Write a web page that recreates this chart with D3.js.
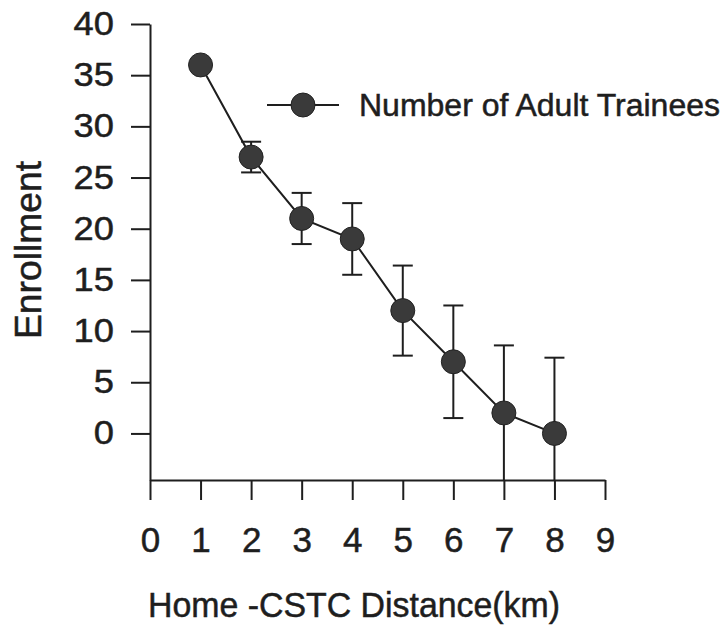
<!DOCTYPE html>
<html>
<head>
<meta charset="utf-8">
<script src="https://cdn.jsdelivr.net/npm/d3@7"></script>
<style>
  html, body { margin: 0; padding: 0; background: #fff; }
  svg { display: block; }
  text { font-family: "Liberation Sans", Arial, sans-serif; fill: #1e1e1e; stroke: #1e1e1e; stroke-width: 0.5px; }
</style>
</head>
<body>
<svg id="chart" width="727" height="629"></svg>
<script>
// ---- data ----
const distances = [1, 2, 3, 4, 5, 6, 7, 8];
const enrollment = [36, 27, 21, 19, 12, 7, 2, 0];
const errors = [0, 1.5, 2.5, 3.5, 4.4, 5.5, 6.6, 7.4];
const xTicks = [0, 1, 2, 3, 4, 5, 6, 7, 8, 9];
const yTicks = [0, 5, 10, 15, 20, 25, 30, 35, 40];
const seriesName = "Number of Adult Trainees";
const xTitle = "Home -CSTC Distance(km)";
const yTitle = "Enrollment";

const svg = d3.select("#chart");
const ink = "#1e1e1e";
const dotFill = "#3a3a3a";

const x = d3.scaleLinear().domain([0, 9]).range([150, 605]);
const y = d3.scaleLinear().domain([-4.55, 40]).range([480, 24]);
const yMin = y.domain()[0];

// x axis
const xAxis = svg.append("g")
  .attr("transform", `translate(0,${y(yMin)})`)
  .call(d3.axisBottom(x).tickValues(xTicks).tickSize(20).tickPadding(27).tickSizeOuter(0).tickFormat(d3.format("d")));
xAxis.select(".domain").attr("stroke", ink).attr("stroke-width", 2);
xAxis.selectAll(".tick line").attr("stroke", ink).attr("stroke-width", 2);
xAxis.selectAll(".tick text").attr("font-size", 35).attr("fill", ink)
  .attr("font-family", "'Liberation Sans', Arial, sans-serif");

// y axis
const yAxis = svg.append("g")
  .attr("transform", `translate(${x(0)},0)`)
  .call(d3.axisLeft(y).tickValues(yTicks).tickSize(19).tickPadding(17).tickSizeOuter(0).tickFormat(d3.format("d")));
yAxis.select(".domain").attr("stroke", ink).attr("stroke-width", 2);
yAxis.selectAll(".tick line").attr("stroke", ink).attr("stroke-width", 2);
yAxis.selectAll(".tick text").attr("font-size", 33).attr("fill", ink)
  .attr("font-family", "'Liberation Sans', Arial, sans-serif")
  .each(function() {
    const w = this.getComputedTextLength();
    d3.select(this).attr("textLength", w * 1.1).attr("lengthAdjust", "spacingAndGlyphs");
  });

// titles
svg.append("text")
  .attr("x", 354).attr("y", 617)
  .attr("text-anchor", "middle")
  .attr("font-size", 35)
  .attr("textLength", 412).attr("lengthAdjust", "spacingAndGlyphs")
  .text(xTitle);

svg.append("text")
  .attr("transform", "translate(41,250) rotate(-90)")
  .attr("text-anchor", "middle")
  .attr("font-size", 36)
  .attr("textLength", 178).attr("lengthAdjust", "spacingAndGlyphs")
  .text(yTitle);

const data = distances.map((d, i) => ({ x: d, y: enrollment[i], e: errors[i] }));

// error bars
const eb = svg.append("g").attr("stroke", ink).attr("stroke-width", 2);
data.filter(d => d.e > 0).forEach(d => {
  const top = y(d.y + d.e);
  const bot = y(Math.max(yMin, d.y - d.e));
  eb.append("line").attr("x1", x(d.x)).attr("x2", x(d.x)).attr("y1", top).attr("y2", bot);
  eb.append("line").attr("x1", x(d.x) - 10).attr("x2", x(d.x) + 10).attr("y1", top).attr("y2", top);
  if (d.y - d.e > yMin) {
    eb.append("line").attr("x1", x(d.x) - 10).attr("x2", x(d.x) + 10).attr("y1", bot).attr("y2", bot);
  }
});

// line
svg.append("path")
  .datum(data)
  .attr("fill", "none")
  .attr("stroke", ink)
  .attr("stroke-width", 2)
  .attr("d", d3.line().x(d => x(d.x)).y(d => y(d.y)));

// points
svg.append("g").selectAll("circle")
  .data(data).join("circle")
  .attr("cx", d => x(d.x)).attr("cy", d => y(d.y))
  .attr("r", 12)
  .attr("fill", dotFill)
  .attr("stroke", "#222")
  .attr("stroke-width", 1);

// legend
const lg = svg.append("g");
lg.append("line").attr("x1", 267).attr("x2", 339).attr("y1", 105).attr("y2", 105)
  .attr("stroke", ink).attr("stroke-width", 2);
lg.append("circle").attr("cx", 303).attr("cy", 105).attr("r", 12)
  .attr("fill", dotFill).attr("stroke", "#222").attr("stroke-width", 1);
lg.append("text").attr("x", 359).attr("y", 116)
  .attr("font-size", 31)
  .attr("textLength", 361).attr("lengthAdjust", "spacingAndGlyphs")
  .text(seriesName);
</script>
</body>
</html>
